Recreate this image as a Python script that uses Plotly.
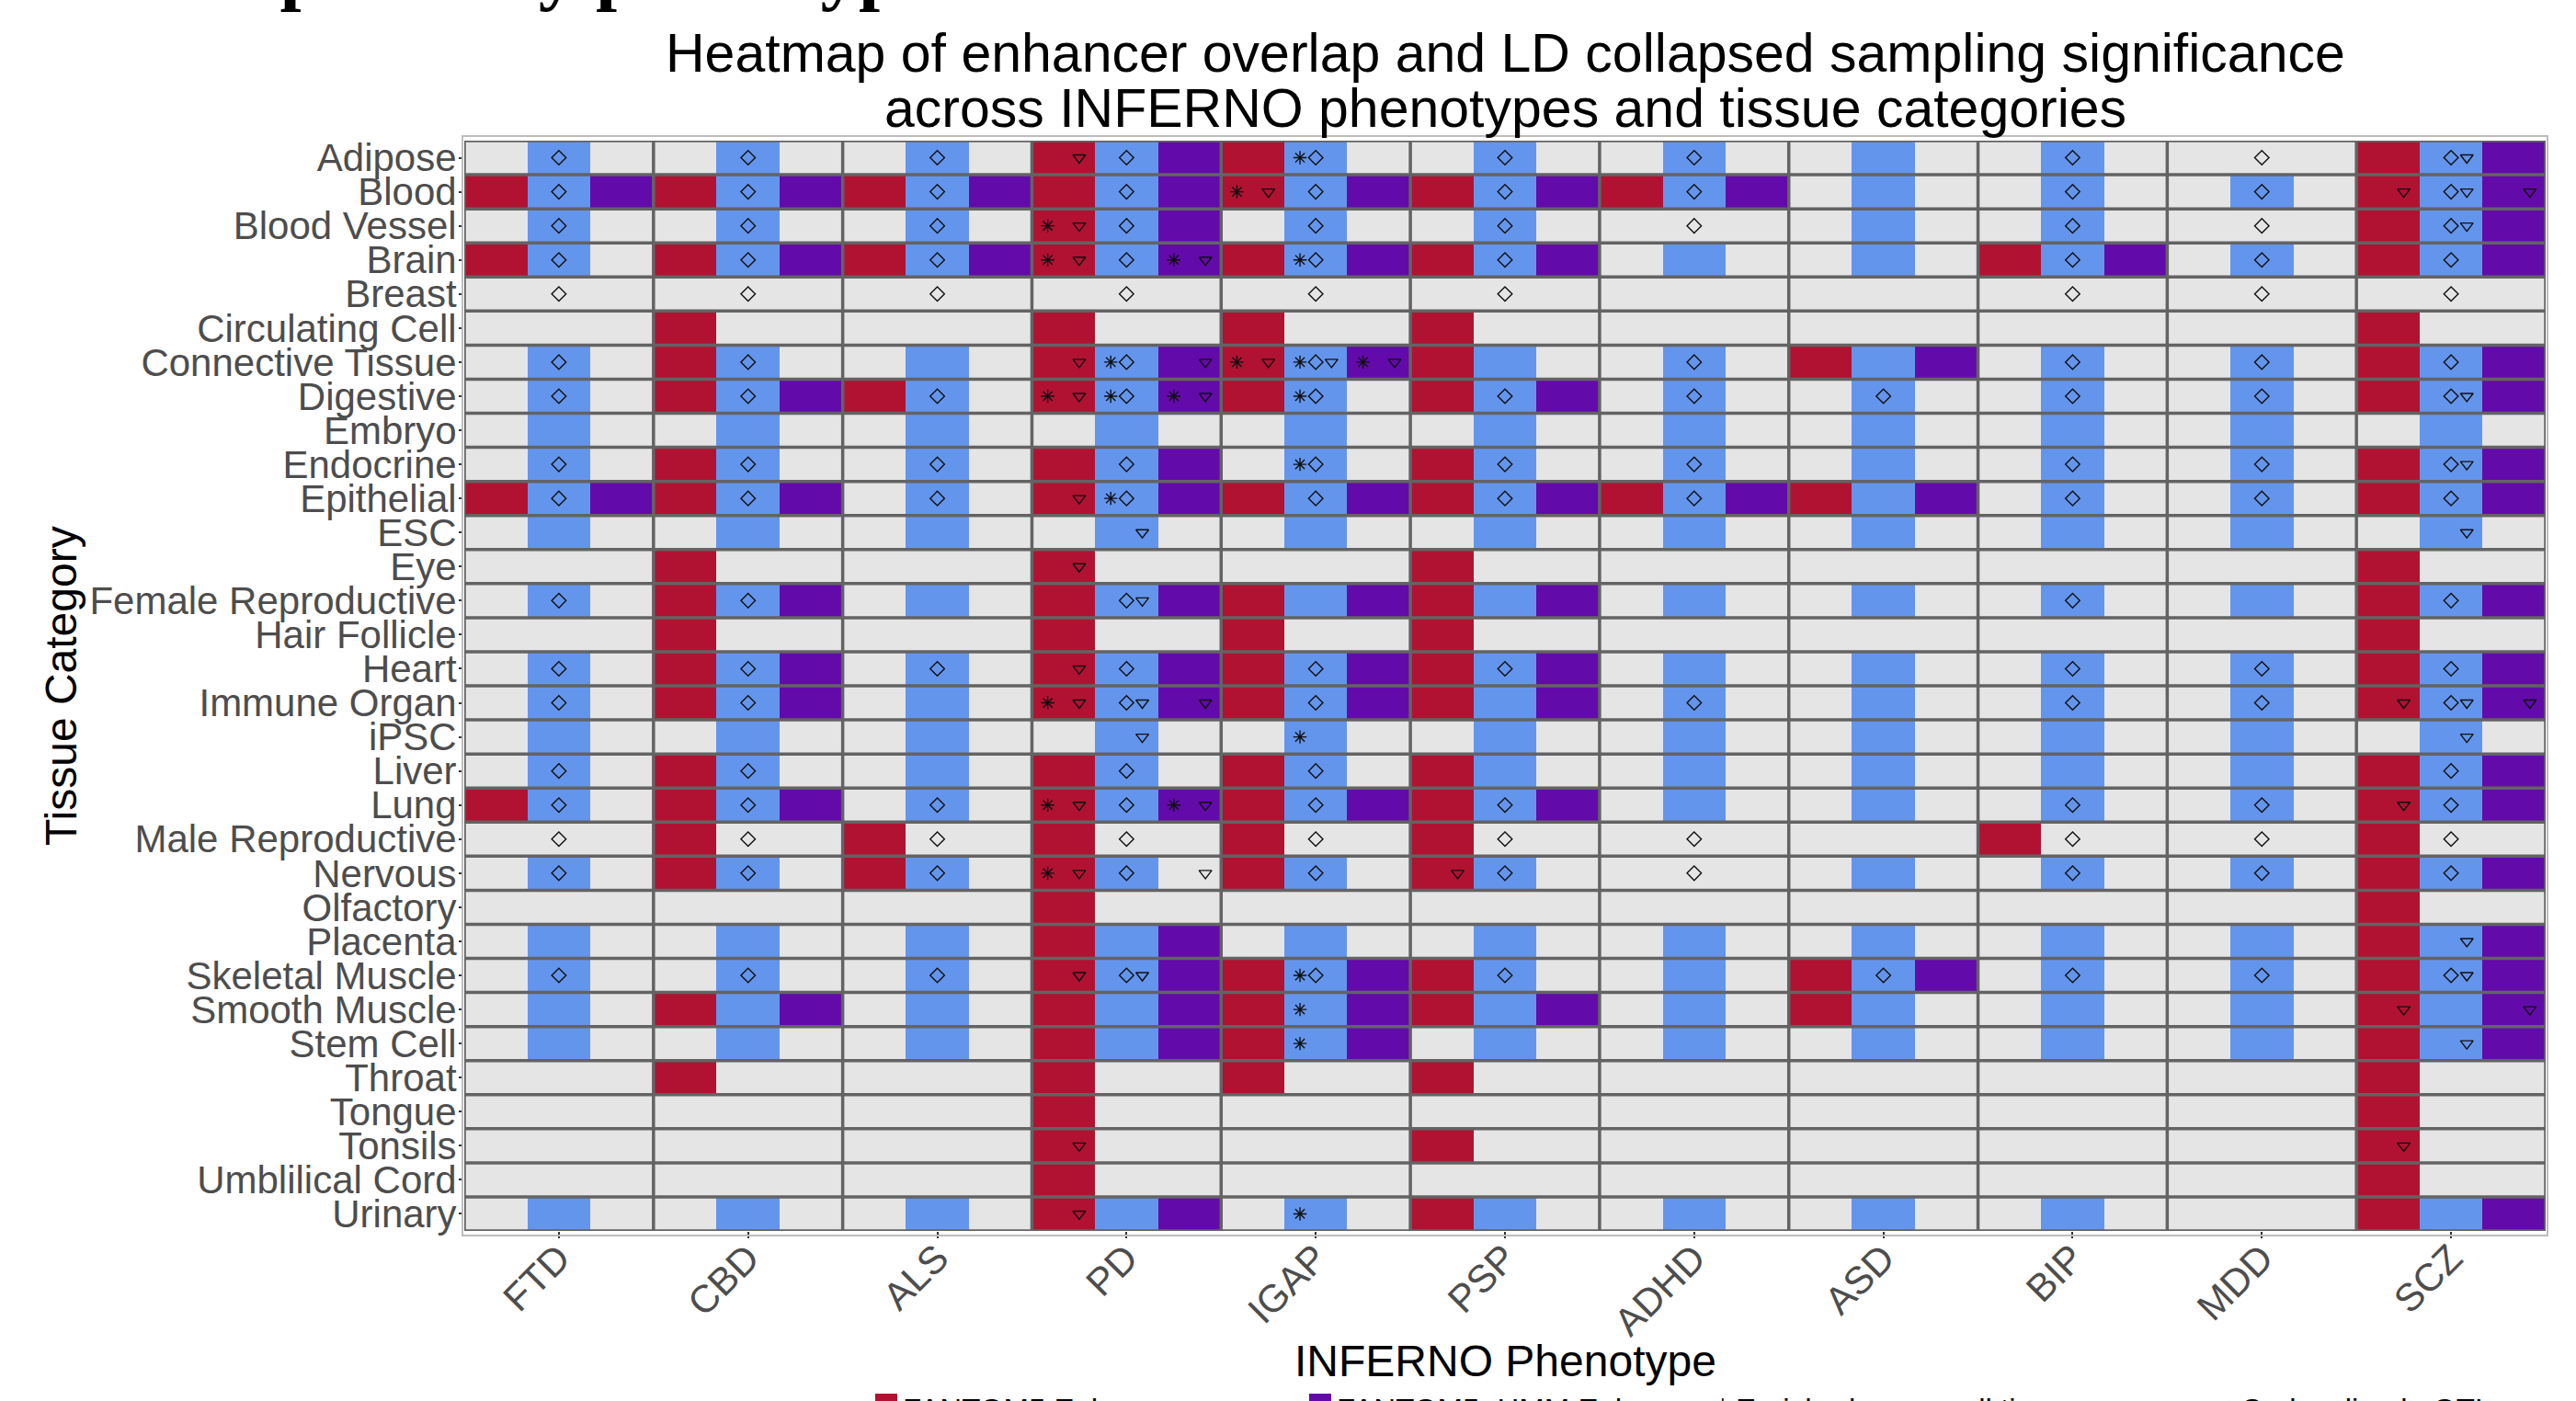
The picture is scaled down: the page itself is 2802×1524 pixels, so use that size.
import plotly.graph_objects as go

# ---------------- data ----------------
phenotypes = ["FTD", "CBD", "ALS", "PD", "IGAP", "PSP", "ADHD", "ASD", "BIP", "MDD", "SCZ"]
sources = ["FANTOM5 Enhancers", "Roadmap Enhancers", "FANTOM5+HMM Enhancers"]  # F, R, H sub-columns

tissues = ["Adipose", "Blood", "Blood Vessel", "Brain", "Breast", "Circulating Cell",
           "Connective Tissue", "Digestive", "Embryo", "Endocrine", "Epithelial", "ESC", "Eye",
           "Female Reproductive", "Hair Follicle", "Heart", "Immune Organ", "iPSC", "Liver", "Lung",
           "Male Reproductive", "Nervous", "Olfactory", "Placenta", "Skeletal Muscle",
           "Smooth Muscle", "Stem Cell", "Throat", "Tongue", "Tonsils", "Umblilical Cord", "Urinary"]

# significance per tissue: one 3-letter group per phenotype (F=FANTOM5, R=Roadmap, H=FANTOM5+HMM, -=n.s.)
significance = {
    "Adipose":             "-R- -R- -R- FRH FR- -R- -R- -R- -R- --- FRH",
    "Blood":               "FRH FRH FRH FRH FRH FRH FRH -R- -R- -R- FRH",
    "Blood Vessel":        "-R- -R- -R- FRH -R- -R- --- -R- -R- --- FRH",
    "Brain":               "FR- FRH FRH FRH FRH FRH -R- -R- FRH -R- FRH",
    "Breast":              "--- --- --- --- --- --- --- --- --- --- ---",
    "Circulating Cell":    "--- F-- --- F-- F-- F-- --- --- --- --- F--",
    "Connective Tissue":   "-R- FR- -R- FRH FRH FR- -R- FRH -R- -R- FRH",
    "Digestive":           "-R- FRH FR- FRH FR- FRH -R- -R- -R- -R- FRH",
    "Embryo":              "-R- -R- -R- -R- -R- -R- -R- -R- -R- -R- -R-",
    "Endocrine":           "-R- FR- -R- FRH -R- FR- -R- -R- -R- -R- FRH",
    "Epithelial":          "FRH FRH -R- FRH FRH FRH FRH FRH -R- -R- FRH",
    "ESC":                 "-R- -R- -R- -R- -R- -R- -R- -R- -R- -R- -R-",
    "Eye":                 "--- F-- --- F-- --- F-- --- --- --- --- F--",
    "Female Reproductive": "-R- FRH -R- FRH FRH FRH -R- -R- -R- -R- FRH",
    "Hair Follicle":       "--- F-- --- F-- F-- F-- --- --- --- --- F--",
    "Heart":               "-R- FRH -R- FRH FRH FRH -R- -R- -R- -R- FRH",
    "Immune Organ":        "-R- FRH -R- FRH FRH FRH -R- -R- -R- -R- FRH",
    "iPSC":                "-R- -R- -R- -R- -R- -R- -R- -R- -R- -R- -R-",
    "Liver":               "-R- FR- -R- FR- FR- FR- -R- -R- -R- -R- FRH",
    "Lung":                "FR- FRH -R- FRH FRH FRH -R- -R- -R- -R- FRH",
    "Male Reproductive":   "--- F-- F-- F-- F-- F-- --- --- F-- --- F--",
    "Nervous":             "-R- FR- FR- FR- FR- FR- --- -R- -R- -R- FRH",
    "Olfactory":           "--- --- --- F-- --- --- --- --- --- --- F--",
    "Placenta":            "-R- -R- -R- FRH -R- -R- -R- -R- -R- -R- FRH",
    "Skeletal Muscle":     "-R- -R- -R- FRH FRH FR- -R- FRH -R- -R- FRH",
    "Smooth Muscle":       "-R- FRH -R- FRH FRH FRH -R- FR- -R- -R- FRH",
    "Stem Cell":           "-R- -R- -R- FRH FRH -R- -R- -R- -R- -R- FRH",
    "Throat":              "--- F-- --- F-- F-- F-- --- --- --- --- F--",
    "Tongue":              "--- --- --- F-- --- --- --- --- --- --- F--",
    "Tonsils":             "--- --- --- F-- --- F-- --- --- --- --- F--",
    "Umblilical Cord":     "--- --- --- F-- --- --- --- --- --- --- F--",
    "Urinary":             "-R- -R- -R- FRH -R- FR- -R- -R- -R- --- FRH",
}

# marks per sub-cell: A = enriched across all tissues, D = co-localized eQTL, T = LD collapsed sampling, . = none
marks = {
    "Adipose":           ". D . | . D . | . D . | T D . | . AD . | . D . | . D . | . . . | . D . | . D . | . DT .",
    "Blood":             ". D . | . D . | . D . | . D . | AT D . | . D . | . D . | . . . | . D . | . D . | T DT T",
    "Blood Vessel":      ". D . | . D . | . D . | AT D . | . D . | . D . | . D . | . . . | . D . | . D . | . DT .",
    "Brain":             ". D . | . D . | . D . | AT D AT | . AD . | . D . | . . . | . . . | . D . | . D . | . D .",
    "Breast":            ". D . | . D . | . D . | . D . | . D . | . D . | . . . | . . . | . D . | . D . | . D .",
    "Connective Tissue": ". D . | . D . | . . . | T AD T | AT ADT AT | . . . | . D . | . . . | . D . | . D . | . D .",
    "Digestive":         ". D . | . D . | . D . | AT AD AT | . AD . | . D . | . D . | . D . | . D . | . D . | . DT .",
    "Endocrine":         ". D . | . D . | . D . | . D . | . AD . | . D . | . D . | . . . | . D . | . D . | . DT .",
    "Epithelial":        ". D . | . D . | . D . | T AD . | . D . | . D . | . D . | . . . | . D . | . D . | . D .",
    "ESC":               ". . . | . . . | . . . | . T . | . . . | . . . | . . . | . . . | . . . | . . . | . T .",
    "Eye":               ". . . | . . . | . . . | T . . | . . . | . . . | . . . | . . . | . . . | . . . | . . .",
    "Female Reproductive": ". D . | . D . | . . . | . DT . | . . . | . . . | . . . | . . . | . D . | . . . | . D .",
    "Heart":             ". D . | . D . | . D . | T D . | . D . | . D . | . . . | . . . | . D . | . D . | . D .",
    "Immune Organ":      ". D . | . D . | . . . | AT DT T | . D . | . . . | . D . | . . . | . D . | . D . | T DT T",
    "iPSC":              ". . . | . . . | . . . | . T . | . A . | . . . | . . . | . . . | . . . | . . . | . T .",
    "Liver":             ". D . | . D . | . . . | . D . | . D . | . . . | . . . | . . . | . . . | . . . | . D .",
    "Lung":              ". D . | . D . | . D . | AT D AT | . D . | . D . | . . . | . . . | . D . | . D . | T D .",
    "Male Reproductive": ". D . | . D . | . D . | . D . | . D . | . D . | . D . | . . . | . D . | . D . | . D .",
    "Nervous":           ". D . | . D . | . D . | AT D T | . D . | T D . | . D . | . . . | . D . | . D . | . D .",
    "Placenta":          ". . . | . . . | . . . | . . . | . . . | . . . | . . . | . . . | . . . | . . . | . T .",
    "Skeletal Muscle":   ". D . | . D . | . D . | T DT . | . AD . | . D . | . . . | . D . | . D . | . D . | . DT .",
    "Smooth Muscle":     ". . . | . . . | . . . | . . . | . A . | . . . | . . . | . . . | . . . | . . . | T . T",
    "Stem Cell":         ". . . | . . . | . . . | . . . | . A . | . . . | . . . | . . . | . . . | . . . | . T .",
    "Tonsils":           ". . . | . . . | . . . | T . . | . . . | . . . | . . . | . . . | . . . | . . . | T . .",
    "Urinary":           ". . . | . . . | . . . | T . . | . A . | . . . | . . . | . . . | . . . | . . . | . . .",
}

legend_labels = ["FANTOM5 Enhancer", "FANTOM5+HMM Enhancer",
                 "Enriched across all tissues", "Co-localized eQTL"]

# ---------------- styling ----------------
GRAY, RED, BLUE, PURPLE = "#E5E5E5", "#B11231", "#6495ED", "#630AAB"
LINE = "#636363"
W, H = 2802, 1524
L, R, T, B = 505, 33, 153, 185
PW, PH = W - L - R, H - T - B


def px(xpix):
    return (xpix - L) / PW


def py(ypix):
    return (H - B - ypix) / PH


nT, nP = len(tissues), len(phenotypes)
ncol = 3 * nP

z = []
for t in tissues:
    row = []
    for grp in significance[t].split():
        for s, ch in enumerate(grp):
            row.append(0 if ch == "-" else s + 1)
    z.append(row)

fig = go.Figure()
fig.add_trace(go.Heatmap(
    z=z, x=list(range(ncol)), y=list(range(nT)),
    zmin=-0.5, zmax=3.5,
    colorscale=[[0, GRAY], [0.25, GRAY], [0.25, RED], [0.5, RED],
                [0.5, BLUE], [0.75, BLUE], [0.75, PURPLE], [1, PURPLE]],
    showscale=False, hoverinfo="skip"))

offsets = {"A": -0.25, "D": 0.0, "T": 0.25}
pts = {"A": ([], []), "D": ([], []), "T": ([], [])}
for i, t in enumerate(tissues):
    if t not in marks:
        continue
    groups = [g.split() for g in marks[t].split("|")]
    for p, g in enumerate(groups):
        for s, tok in enumerate(g):
            if tok == ".":
                continue
            for c in tok:
                pts[c][0].append(3 * p + s + offsets[c])
                pts[c][1].append(i)

sym = {"A": ("asterisk-open", 12), "D": ("diamond-open", 12), "T": ("triangle-down-open", 12)}
for c, (xs, ys) in pts.items():
    fig.add_trace(go.Scatter(
        x=xs, y=ys, mode="markers", hoverinfo="skip", showlegend=False,
        marker=dict(symbol=sym[c][0], size=sym[c][1], color="#111111", line=dict(width=1.4))))

shapes = []
for k in range(nT + 1):
    shapes.append(dict(type="line", xref="x", yref="y", x0=-0.5, x1=ncol - 0.5,
                       y0=k - 0.5, y1=k - 0.5, line=dict(color=LINE, width=3.5)))
for p in range(nP + 1):
    shapes.append(dict(type="line", xref="x", yref="y", x0=3 * p - 0.5, x1=3 * p - 0.5,
                       y0=-0.5, y1=nT - 0.5, line=dict(color=LINE, width=3.5)))
# outer light panel border
shapes.append(dict(type="rect", xref="paper", yref="paper", x0=px(L - 2), x1=px(W - R + 2),
                   y0=py(H - B + 5), y1=py(T - 5), line=dict(color="#BDBDBD", width=2)))

# legend swatches (partially visible at bottom)
for xpix, col in [(952, RED), (1424, PURPLE)]:
    shapes.append(dict(type="rect", xref="paper", yref="paper", x0=px(xpix), x1=px(xpix + 24),
                       y0=py(1545), y1=py(1516), fillcolor=col, line=dict(width=0)))

FONT = "Liberation Sans, Arial, sans-serif"
LEG_Y = py(1534)
annotations = [
    dict(text="Heatmap of enhancer overlap and LD collapsed sampling significance",
         x=0.5, y=py(58), xref="paper", yref="paper", showarrow=False,
         font=dict(family=FONT, size=59, color="black"), xanchor="center", yanchor="middle"),
    dict(text="across INFERNO phenotypes and tissue categories",
         x=0.5, y=py(118), xref="paper", yref="paper", showarrow=False,
         font=dict(family=FONT, size=59, color="black"), xanchor="center", yanchor="middle"),
    dict(text="INFERNO Phenotype", x=0.5, y=py(1480), xref="paper", yref="paper",
         showarrow=False, font=dict(family=FONT, size=48, color="black"),
         xanchor="center", yanchor="middle"),
    dict(text="Tissue Category", x=px(66), y=0.5, xref="paper", yref="paper", textangle=-90,
         showarrow=False, font=dict(family=FONT, size=48, color="black"),
         xanchor="center", yanchor="middle"),
    dict(text="<b>Tissue specificity phenotype</b>", x=px(25), y=py(-33), xref="paper", yref="paper",
         showarrow=False, font=dict(family="Liberation Serif, serif", size=83, color="black"),
         xanchor="left", yanchor="middle"),
    dict(text=legend_labels[0], x=px(980), y=LEG_Y, xref="paper", yref="paper",
         showarrow=False, font=dict(family=FONT, size=33, color="black"), xanchor="left", yanchor="middle"),
    dict(text=legend_labels[1], x=px(1452), y=LEG_Y, xref="paper", yref="paper",
         showarrow=False, font=dict(family=FONT, size=33, color="black"), xanchor="left", yanchor="middle"),
    dict(text="✳" + legend_labels[2], x=px(1858), y=LEG_Y, xref="paper", yref="paper",
         showarrow=False, font=dict(family=FONT, size=33, color="black"), xanchor="left", yanchor="middle"),
    dict(text="◇" + legend_labels[3], x=px(2410), y=LEG_Y, xref="paper", yref="paper",
         showarrow=False, font=dict(family=FONT, size=33, color="black"), xanchor="left", yanchor="middle"),
]

fig.update_layout(
    width=W, height=H, margin=dict(l=L, r=R, t=T, b=B, pad=0),
    plot_bgcolor=GRAY, paper_bgcolor="white", showlegend=False,
    shapes=shapes, annotations=annotations,
    xaxis=dict(range=[-0.5, ncol - 0.5], tickmode="array",
               tickvals=[3 * p + 1 for p in range(nP)], ticktext=phenotypes,
               tickangle=-45, ticks="outside", ticklen=7, tickwidth=2, tickcolor="#333333",
               ticklabelstandoff=-20,
               tickfont=dict(family=FONT, size=42, color="#4D4D4D"),
               showgrid=False, zeroline=False, showline=False, automargin=False),
    yaxis=dict(range=[nT - 0.5, -0.5], tickmode="array", tickvals=list(range(nT)),
               ticktext=tissues, ticks="outside", ticklen=5, tickwidth=2, tickcolor="#333333",
               ticklabelstandoff=-6,
               tickfont=dict(family=FONT, size=42, color="#4D4D4D"),
               showgrid=False, zeroline=False, showline=False, automargin=False),
)

fig.write_html("out.html", config={"displayModeBar": False},
               post_script="document.body.style.margin='0';document.body.style.overflow='hidden';")
